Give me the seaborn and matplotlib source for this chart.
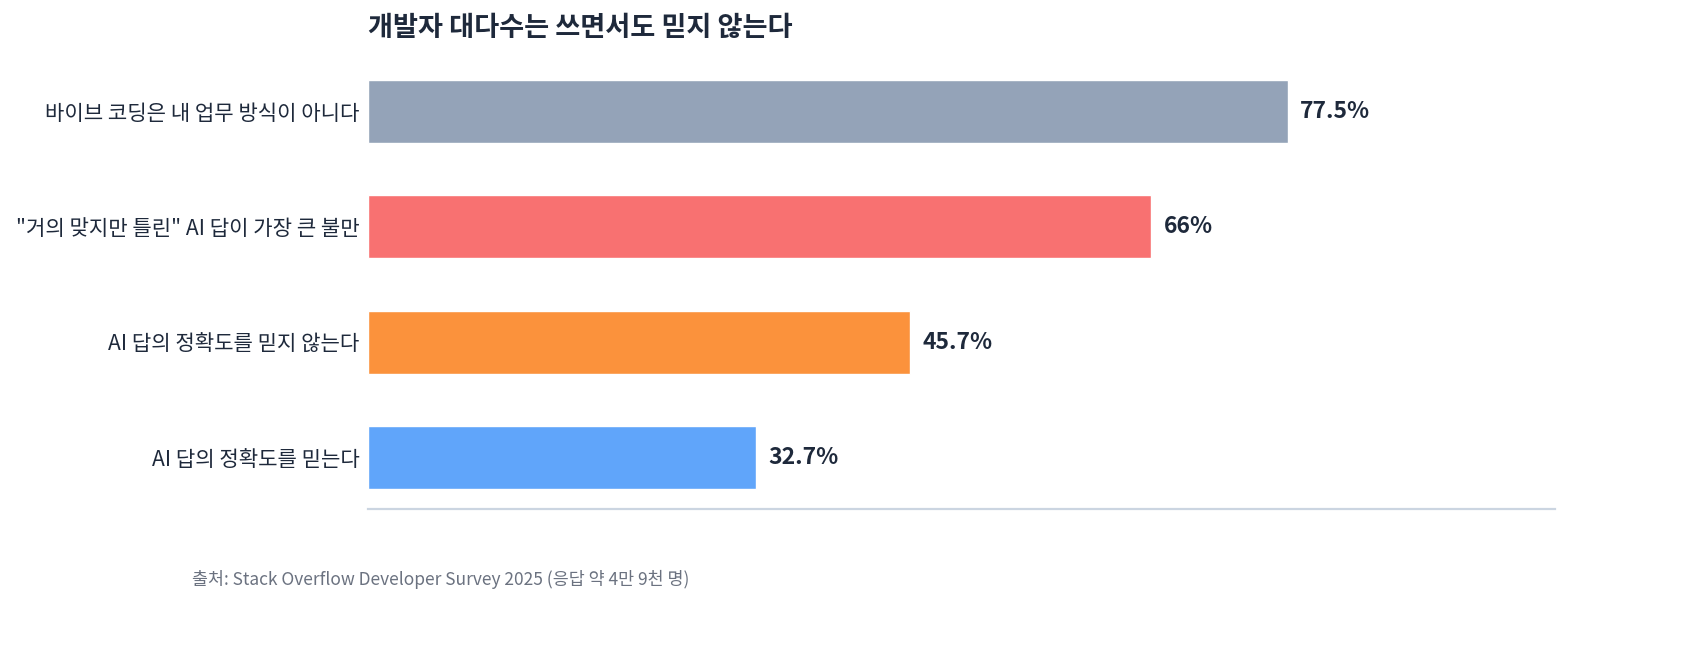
import matplotlib
matplotlib.use("Agg")
import matplotlib.pyplot as plt
import seaborn as sns
import pandas as pd

# 데이터
labels = [
    "바이브 코딩은 내 업무 방식이 아니다",
    "\"거의 맞지만 틀린\" AI 답이 가장 큰 불만",
    "AI 답의 정확도를 믿지 않는다",
    "AI 답의 정확도를 믿는다",
]
values = [77.5, 66, 45.7, 32.7]
value_text = ["77.5%", "66%", "45.7%", "32.7%"]
colors = ["#94A3B8", "#F87171", "#FB923C", "#60A5FA"]

title = "개발자 대다수는 쓰면서도 믿지 않는다"
source = "출처: Stack Overflow Developer Survey 2025 (응답 약 4만 9천 명)"

sns.set_theme(style="white")
plt.rcParams['font.family'] = ['Noto Sans CJK KR', 'DejaVu Sans']

df = pd.DataFrame({"label": labels, "value": values})

fig = plt.figure(figsize=(16.9, 6.51), dpi=100)
ax = fig.add_axes([0.2178, 0.218, 0.9201 - 0.2178, 0.9355 - 0.218])

sns.barplot(data=df, x="value", y="label", hue="label", palette=colors,
            legend=False, width=0.545, saturation=1, ax=ax)

ax.set_xlim(0, 100)
ax.set_ylim(3.445, -0.6)
ax.set_xlabel("")
ax.set_ylabel("")
ax.set_xticks([])
ax.tick_params(axis="y", length=0, pad=6, labelsize=15.2, labelcolor="#1E293B")

for side in ["top", "right", "left"]:
    ax.spines[side].set_visible(False)
ax.spines["bottom"].set_color("#CBD5E1")
ax.spines["bottom"].set_linewidth(1.6)

# 값 레이블
for i, (v, t) in enumerate(zip(values, value_text)):
    ax.annotate(t, xy=(v, i), xytext=(12, 0), textcoords="offset pixels",
                va="center", ha="left", fontsize=16.5, fontweight="bold",
                color="#1E293B")

fig.text(368 / 1690, 1 - 28 / 651, title, fontsize=19.6, fontweight="bold",
         color="#1E293B", ha="left", va="center")
fig.text(192 / 1690, 1 - 579 / 651, source, fontsize=12.5, color="#6B7280",
         ha="left", va="center")

fig.savefig("out.png", dpi=100)
